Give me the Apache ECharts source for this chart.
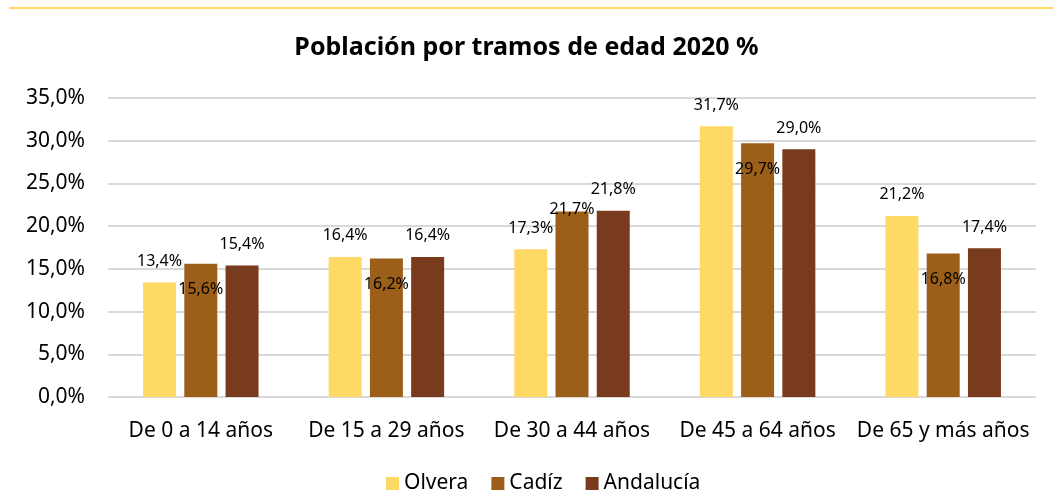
<!DOCTYPE html>
<html>
<head>
<meta charset="utf-8">
<script src="https://cdn.jsdelivr.net/npm/echarts@6/dist/echarts.min.js"></script>
<style>
  html, body { margin: 0; padding: 0; background: #fff; }
  #chart { width: 1053px; height: 490px; }
</style>
</head>
<body>
<div id="chart"></div>
<script>
const categories = ['De 0 a 14 años', 'De 15 a 29 años', 'De 30 a 44 años', 'De 45 a 64 años', 'De 65 y más años']
const olvera = [13.4, 16.4, 17.3, 31.7, 21.2]
const cadiz = [15.6, 16.2, 21.7, 29.7, 16.8]
const andalucia = [15.4, 16.4, 21.8, 29.0, 17.4]
const yTicks = { min: 0, max: 35, interval: 5 }

// Cadíz labels sit inside the bar, except the third one
const cadizLabelDy = [34, 34, 6, 34, 34]

const fontFamily = '"Noto Sans", "Open Sans", sans-serif'
const pct = v => v.toFixed(1).replace('.', ',') + '%'

const chart = echarts.init(document.getElementById('chart'))

const labelTop = {
  show: true,
  position: 'top',
  distance: 13,
  color: '#000',
  fontSize: 16,
  fontFamily,
  formatter: p => pct(p.value)
}

chart.setOption({
  animation: false,
  title: {
    text: 'Población por tramos de edad 2020 %',
    left: 'center',
    top: 30,
    textStyle: { fontSize: 25, fontWeight: 'bold', color: '#000', fontFamily }
  },
  graphic: [{
    type: 'line',
    shape: { x1: 9, y1: 8, x2: 1053, y2: 8 },
    style: { stroke: '#FFD966', lineWidth: 2 }
  }],
  legend: {
    bottom: -9,
    left: 381,
    itemWidth: 13,
    itemHeight: 13,
    itemGap: 23,
    icon: 'rect',
    textStyle: { fontSize: 21, color: '#000', fontFamily },
    data: ['Olvera', 'Cadíz', 'Andalucía']
  },
  grid: { left: 108, right: 17, top: 98, bottom: 93 },
  xAxis: {
    type: 'category',
    data: categories,
    axisLine: { show: false },
    axisTick: { show: false },
    axisLabel: { fontSize: 21, color: '#000', margin: 24, interval: 0, fontFamily }
  },
  yAxis: {
    type: 'value',
    min: yTicks.min,
    max: yTicks.max,
    interval: yTicks.interval,
    axisLine: { show: false },
    axisTick: { show: false },
    splitLine: { lineStyle: { color: '#D9D9D9', width: 2 } },
    axisLabel: { fontSize: 21, color: '#000', margin: 23, fontFamily, formatter: v => pct(v) }
  },
  series: [
    {
      name: 'Olvera', type: 'bar', data: olvera,
      barWidth: 33, barGap: '25%', barCategoryGap: '38%',
      itemStyle: { color: '#FFD966' },
      label: labelTop
    },
    {
      name: 'Cadíz', type: 'bar',
      data: cadiz.map((v, i) => ({
        value: v,
        label: { offset: [0, cadizLabelDy[i]] }
      })),
      barWidth: 33,
      itemStyle: { color: '#9C5F19' },
      label: { ...labelTop, position: 'top', distance: 0 }
    },
    {
      name: 'Andalucía', type: 'bar', data: andalucia,
      barWidth: 33,
      itemStyle: { color: '#783B1E' },
      label: labelTop
    }
  ]
})

window.addEventListener('resize', () => chart.resize())
</script>
</body>
</html>
